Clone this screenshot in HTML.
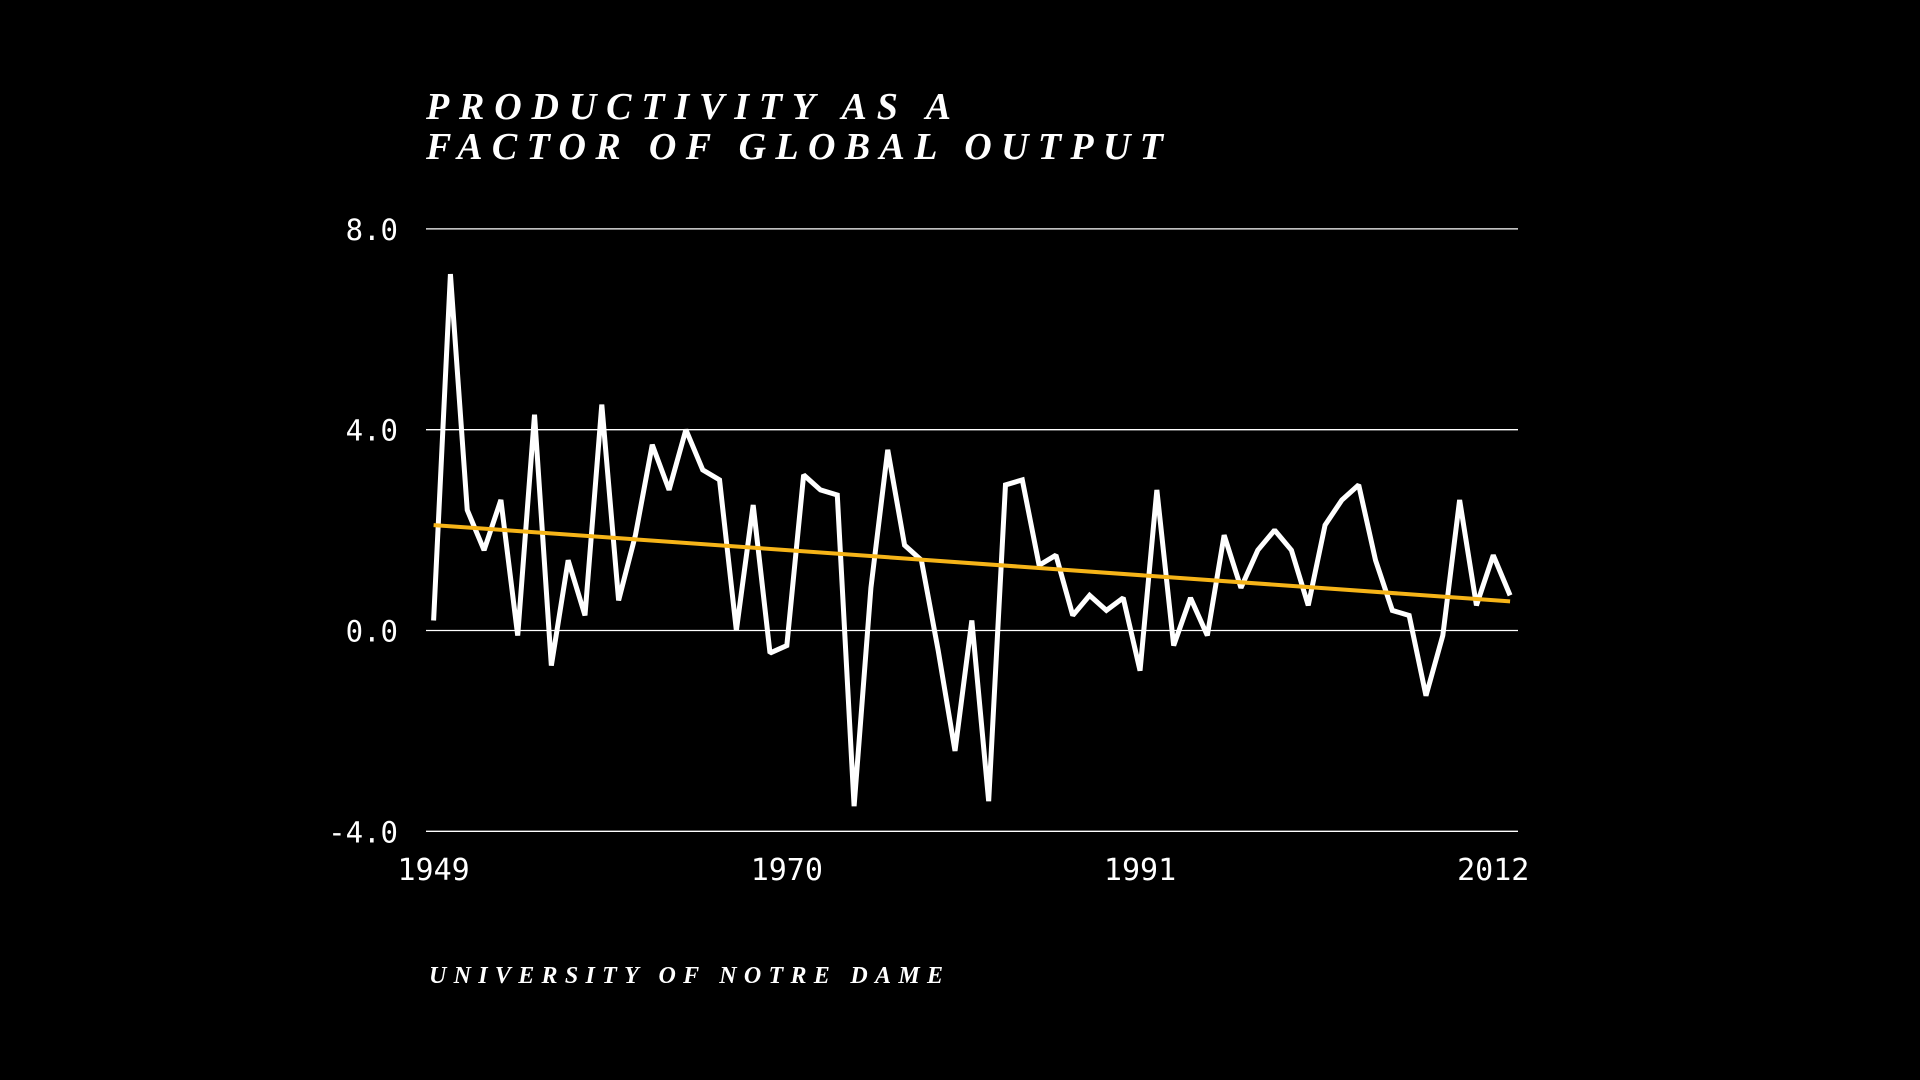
<!DOCTYPE html>
<html>
<head>
<meta charset="utf-8">
<style>
  html,body{margin:0;padding:0;background:#000;}
  svg{display:block;}
</style>
</head>
<body>
<svg id="chart" width="1920" height="1080" viewBox="0 0 1920 1080" xmlns="http://www.w3.org/2000/svg">
  <rect width="1920" height="1080" fill="#000"/>
  <g font-family="'Liberation Serif', serif" font-style="italic" font-weight="bold" font-size="38" fill="#fff">
    <text x="426" y="119" textLength="525" lengthAdjust="spacing">PRODUCTIVITY AS A</text>
    <text x="426" y="159" textLength="737" lengthAdjust="spacing">FACTOR OF GLOBAL OUTPUT</text>
  </g>
  <g id="grid"></g>
  <g id="yticks"></g>
  <g id="xticks"></g>
  <g id="series"></g>
  <text x="429" y="983" textLength="514" lengthAdjust="spacing" font-family="'Liberation Serif', serif" font-style="italic" font-weight="bold" font-size="24" fill="#fff">UNIVERSITY OF NOTRE DAME</text>
</svg>
<script>
const years = [1949,1950,1951,1952,1953,1954,1955,1956,1957,1958,1959,1960,1961,1962,1963,1964,1965,1966,1967,1968,1969,1970,1971,1972,1973,1974,1975,1976,1977,1978,1979,1980,1981,1982,1983,1984,1985,1986,1987,1988,1989,1990,1991,1992,1993,1994,1995,1996,1997,1998,1999,2000,2001,2002,2003,2004,2005,2006,2007,2008,2009,2010,2011,2012,2013];
const productivity = [0.2,7.1,2.4,1.6,2.6,-0.1,4.3,-0.7,1.4,0.3,4.5,0.6,1.9,3.7,2.8,4.0,3.2,3.0,0.0,2.5,-0.45,-0.3,3.1,2.8,2.7,-3.5,0.85,3.6,1.7,1.4,-0.4,-2.4,0.2,-3.4,2.9,3.0,1.3,1.5,0.3,0.7,0.4,0.65,-0.8,2.8,-0.3,0.65,-0.1,1.9,0.85,1.6,2.0,1.6,0.5,2.1,2.6,2.9,1.4,0.4,0.3,-1.3,-0.1,2.6,0.5,1.5,0.7];
const trendYears = [1949,2013];
const trendValues = [2.1,0.58];
const yTicks = [8,4,0,-4];
const yTickLabels = ["8.0","4.0","0.0","-4.0"];
const xTicks = [1949,1970,1991,2012];
const xTickLabels = ["1949","1970","1991","2012"];

const NS = "http://www.w3.org/2000/svg";
const X0 = 433.6, XSTEP = 16.82;
function xScale(yr){ return X0 + (yr - 1949) * XSTEP; }
function yScale(v){ return 630.5 - v * 50.2; }

const grid = document.getElementById('grid');
const yt = document.getElementById('yticks');
yTicks.forEach((t,i)=>{
  const l = document.createElementNS(NS,'line');
  l.setAttribute('x1',426); l.setAttribute('x2',1518);
  l.setAttribute('y1',yScale(t)); l.setAttribute('y2',yScale(t));
  l.setAttribute('stroke','#fff'); l.setAttribute('stroke-width','1.3');
  
  
  grid.appendChild(l);
  const tx = document.createElementNS(NS,'text');
  tx.setAttribute('x',398); tx.setAttribute('y',yScale(t)+11);
  tx.setAttribute('text-anchor','end');
  tx.setAttribute('font-family',"'DejaVu Sans Mono', monospace");
  tx.setAttribute('font-size','29'); tx.setAttribute('fill','#fff');
  tx.textContent = yTickLabels[i];
  
  
  yt.appendChild(tx);
});
const xt = document.getElementById('xticks');
xTicks.forEach((t,i)=>{
  const tx = document.createElementNS(NS,'text');
  tx.setAttribute('x',xScale(t)); tx.setAttribute('y',880);
  tx.setAttribute('text-anchor','middle');
  tx.setAttribute('font-family',"'DejaVu Sans Mono', monospace");
  tx.setAttribute('font-size','30'); tx.setAttribute('fill','#fff');
  tx.textContent = xTickLabels[i];
  
  
  xt.appendChild(tx);
});
const series = document.getElementById('series');
const pl = document.createElementNS(NS,'polyline');
pl.setAttribute('points', years.map((y,i)=>xScale(y)+','+yScale(productivity[i])).join(' '));
pl.setAttribute('fill','none'); pl.setAttribute('stroke','#fff');
pl.setAttribute('stroke-width','5'); pl.setAttribute('stroke-linejoin','miter');
pl.setAttribute('stroke-miterlimit','1.5');


series.appendChild(pl);
const tr = document.createElementNS(NS,'line');
tr.setAttribute('x1',xScale(trendYears[0])); tr.setAttribute('y1',yScale(trendValues[0]));
tr.setAttribute('x2',xScale(trendYears[1])); tr.setAttribute('y2',yScale(trendValues[1]));
tr.setAttribute('stroke','#f6b418'); tr.setAttribute('stroke-width','4');


series.appendChild(tr);
</script>
</body>
</html>
